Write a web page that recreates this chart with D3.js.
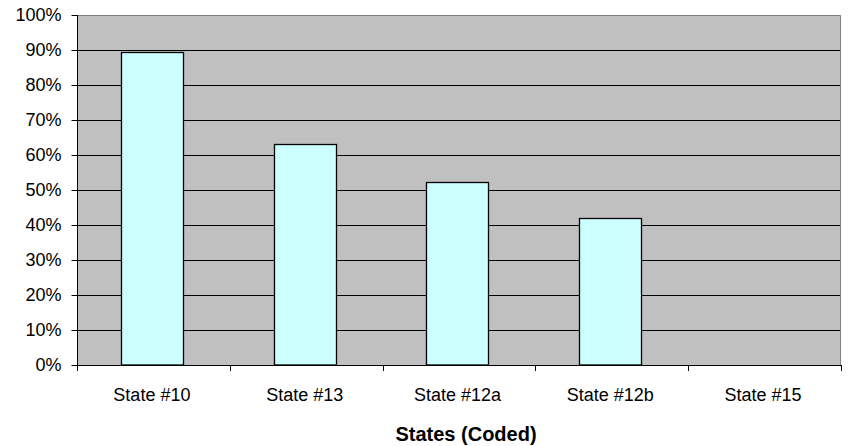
<!DOCTYPE html>
<html><head><meta charset="utf-8">
<script src="https://cdn.jsdelivr.net/npm/d3@7"></script>
<style>body{margin:0;background:#fff}svg{display:block}text{font-family:"Liberation Sans",Arial,sans-serif}</style>
</head><body>
<script>
const categories = ["State #10","State #13","State #12a","State #12b","State #15"];
const values = [0.894, 0.631, 0.524, 0.419, null];
const yTicks = [0,0.1,0.2,0.3,0.4,0.5,0.6,0.7,0.8,0.9,1.0];
const xTitle = "States (Coded)";

const W=850,H=446;
const m={left:77,right:9,top:15,bottom:81};
const svg=d3.select("body").append("svg").attr("width",W).attr("height",H);
const x=d3.scaleBand().domain(categories).range([m.left-1.5,W-m.right-1.5]).paddingInner(0.594).paddingOuter(0.297);
const y=d3.scaleLinear().domain([0,1]).range([H-m.bottom,m.top]);
const x0=m.left,x1=W-m.right,y0=H-m.bottom,y1=m.top;

svg.append("rect").attr("x",x0).attr("y",y1).attr("width",x1-x0).attr("height",y0-y1).attr("fill","#c0c0c0");
svg.append("g").selectAll("line").data(yTicks.filter(d=>d>0&&d<1)).join("line")
 .attr("x1",x0).attr("x2",x1).attr("y1",d=>Math.round(y(d))+0.5).attr("y2",d=>Math.round(y(d))+0.5)
 .attr("stroke","#000").attr("stroke-width",1);
svg.append("path").attr("d",`M${x0},${y1+0.5}H${x1-0.5}V${y0}`).attr("fill","none").attr("stroke","#808080").attr("stroke-width",1);
svg.append("g").selectAll("rect").data(categories.map((c,i)=>({c,v:values[i]})).filter(d=>d.v!=null)).join("rect")
 .attr("x",d=>Math.round(x(d.c))+0.5).attr("width",Math.round(x.bandwidth()))
 .attr("y",d=>Math.round(y(d.v))+0.5).attr("height",d=>y0-Math.round(y(d.v))-0.5)
 .attr("fill","#ccffff").attr("stroke","#000").attr("stroke-width",1.3);
const ya=svg.append("g").attr("transform",`translate(${x0+0.5},0)`)
 .call(d3.axisLeft(y).tickValues(yTicks).tickFormat(d3.format(".0%")).tickSize(6).tickPadding(10));
ya.select(".domain").attr("stroke","#000").attr("d",`M0,${y1}V${y0}`);
ya.selectAll("line").attr("stroke","#000");
ya.selectAll("text").attr("font-size",18).attr("fill","#000").attr("font-family","Liberation Sans, Arial, sans-serif");
const bounds=d3.range(categories.length+1).map(i=>x0+(x1-x0)*i/categories.length);
const xa=svg.append("g");
xa.append("line").attr("x1",x0).attr("x2",x1).attr("y1",y0+0.5).attr("y2",y0+0.5).attr("stroke","#000");
xa.selectAll("line.t").data(bounds).join("line").attr("class","t")
 .attr("x1",d=>Math.round(d)+0.5).attr("x2",d=>Math.round(d)+0.5).attr("y1",y0).attr("y2",y0+6).attr("stroke","#000");
xa.selectAll("text").data(categories).join("text")
 .attr("x",d=>x(d)+x.bandwidth()/2).attr("y",401).attr("text-anchor","middle")
 .attr("font-size",18).attr("fill","#000").text(d=>d);
svg.append("text").attr("x",466).attr("y",441).attr("text-anchor","middle")
 .attr("font-size",20).attr("font-weight","bold").text(xTitle);
</script>
</body></html>
